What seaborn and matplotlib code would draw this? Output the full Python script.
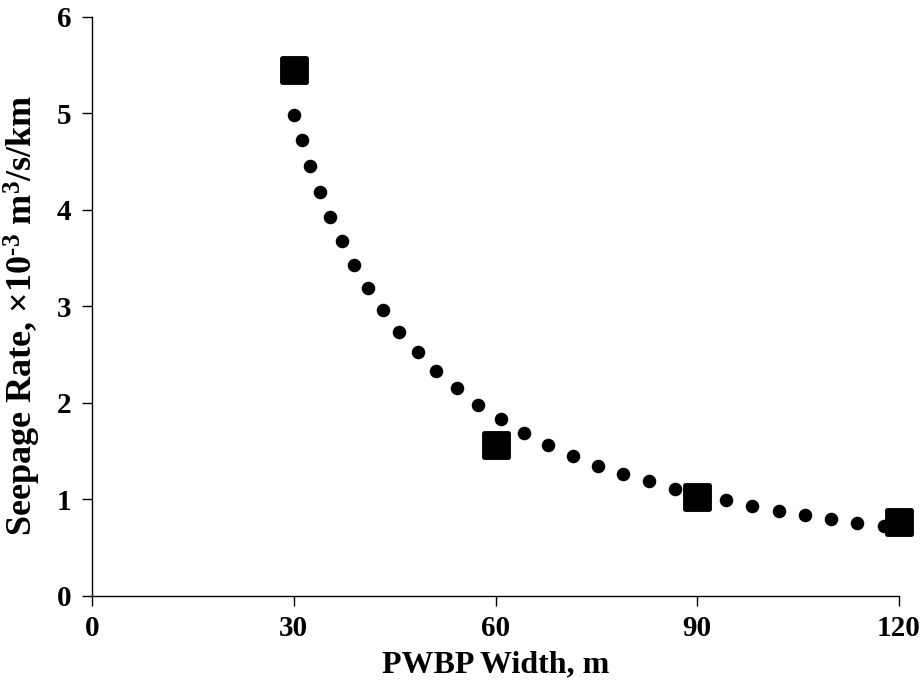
import numpy as np
import pandas as pd
import matplotlib
import matplotlib.pyplot as plt
from matplotlib.markers import MarkerStyle
import seaborn as sns

# fitted curve points
curve_width = [30.0, 31.2, 32.4, 33.9, 35.4, 37.2, 39.0, 41.1, 43.3, 45.7,
               48.4, 51.2, 54.3, 57.4, 60.8, 64.2, 67.8, 71.5, 75.3, 79.0,
               82.8, 86.7, 90.5, 94.3, 98.2, 102.1, 106.0, 109.9, 113.8, 117.8]
curve_rate = [4.98, 4.72, 4.46, 4.19, 3.93, 3.68, 3.43, 3.19, 2.96, 2.74,
              2.53, 2.33, 2.15, 1.98, 1.83, 1.69, 1.56, 1.45, 1.35, 1.26,
              1.19, 1.11, 1.05, 0.99, 0.93, 0.88, 0.84, 0.80, 0.76, 0.73]

# simulated points
sim_width = [30, 60, 90, 120]
sim_rate = [5.45, 1.56, 1.03, 0.77]

x_ticks = [0, 30, 60, 90, 120]
y_ticks = [0, 1, 2, 3, 4, 5, 6]

sns.set_style("ticks")
plt.rcParams["font.family"] = ["Liberation Serif", "DejaVu Serif"]
plt.rcParams["font.weight"] = "bold"
plt.rcParams["text.color"] = "black"
plt.rcParams["axes.labelcolor"] = "black"
plt.rcParams["mathtext.fontset"] = "custom"
plt.rcParams["mathtext.rm"] = "Liberation Serif:bold"
plt.rcParams["mathtext.bf"] = "Liberation Serif:bold"
plt.rcParams["mathtext.it"] = "Liberation Serif:bold"

curve = pd.DataFrame({"width": curve_width, "rate": curve_rate})
sim = pd.DataFrame({"width": sim_width, "rate": sim_rate})

fig = plt.figure(figsize=(9.24, 6.96), dpi=100)
ax = fig.add_axes([0.0996, 0.1437, 0.8734, 0.832])

sns.scatterplot(data=curve, x="width", y="rate", ax=ax, color="black",
                s=95, linewidth=0, zorder=2)
sq = MarkerStyle("s", joinstyle="round")
sns.scatterplot(data=sim, x="width", y="rate", ax=ax, color="black",
                marker=sq, s=290, edgecolor="black", linewidth=3.5, zorder=3)

ax.set_xlim(0, 120)
ax.set_ylim(0, 6)
ax.set_xticks(x_ticks)
ax.set_yticks(y_ticks)
ax.tick_params(axis="both", direction="out", length=7, width=1,
               labelsize=21, colors="black")
ax.tick_params(axis="x", pad=7)
ax.tick_params(axis="y", pad=8)
for lab in ax.get_xticklabels() + ax.get_yticklabels():
    lab.set_fontweight("bold")

for side in ["top", "right"]:
    ax.spines[side].set_visible(False)
for side in ["left", "bottom"]:
    ax.spines[side].set_linewidth(1)
    ax.spines[side].set_color("black")

for coll in ax.collections:
    coll.set_clip_on(False)

ax.set_xlabel("PWBP Width, m", fontsize=23, fontweight="bold", labelpad=6)
ax.set_ylabel(r"Seepage Rate, ×10$^{\text{-3}}$ m$^{3}$/s/km", fontsize=26,
              fontweight="bold")
ax.yaxis.set_label_coords(-0.061, 0.485)

fig.savefig("out.png", dpi=100)
